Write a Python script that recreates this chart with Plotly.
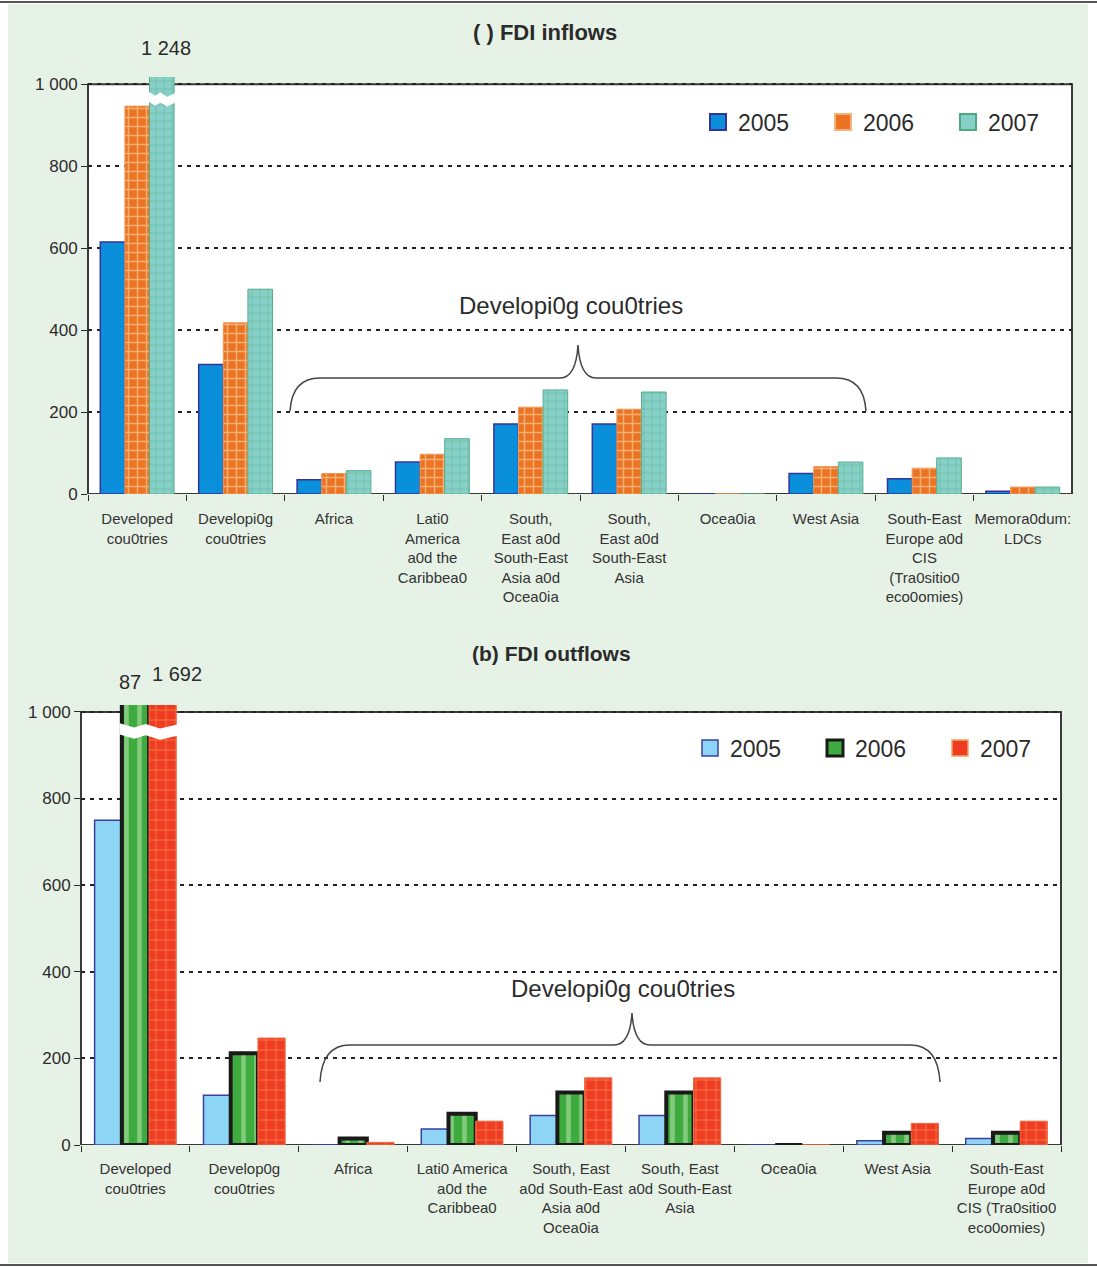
import plotly.graph_objects as go

W, H = 1097, 1268

years = ["2005", "2006", "2007"]

# (a) FDI inflows, $ billion
in_categories = [
    "Developed<br>cou0tries",
    "Developi0g<br>cou0tries",
    "Africa",
    "Lati0<br>America<br>a0d the<br>Caribbea0",
    "South,<br>East a0d<br>South-East<br>Asia a0d<br>Ocea0ia",
    "South,<br>East a0d<br>South-East<br>Asia",
    "Ocea0ia",
    "West Asia",
    "South-East<br>Europe a0d<br>CIS<br>(Tra0sitio0<br>eco0omies)",
    "Memora0dum:<br>LDCs",
]
in_2005 = [615, 316, 35, 78, 171, 171, 0, 50, 37, 7]
in_2006 = [947, 418, 50, 97, 212, 207, 0, 67, 63, 17]
in_2007 = [1248, 500, 57, 135, 254, 249, 0, 78, 88, 17]

# (b) FDI outflows, $ billion
out_categories = [
    "Developed<br>cou0tries",
    "Develop0g<br>cou0tries",
    "Africa",
    "Lati0 America<br>a0d the<br>Caribbea0",
    "South, East<br>a0d South-East<br>Asia a0d<br>Ocea0ia",
    "South, East<br>a0d South-East<br>Asia",
    "Ocea0ia",
    "West Asia",
    "South-East<br>Europe a0d<br>CIS (Tra0sitio0<br>eco0omies)",
]
out_2005 = [750, 115, 0, 37, 68, 68, 0, 10, 15]
out_2006 = [1087, 212, 15, 72, 121, 121, 0, 28, 28]
out_2007 = [1692, 247, 6, 55, 155, 155, 0, 50, 55]

y_ticks = [0, 200, 400, 600, 800, 1000]
y_ticktext = ["0", "200", "400", "600", "800", "1 000"]

BARGAP = 0.25
SANS = "Liberation Sans, Arial, sans-serif"
INK = "#2b2b2b"


def px(x):
    return x / W


def py(y):
    return 1 - y / H


def bar_span(cat_index, trace_index, n=3):
    """Left/right edges (in category units) of one bar within a group."""
    w = (1 - BARGAP) / n
    centre = cat_index + (trace_index - (n - 1) / 2) * w
    return centre - w / 2, centre + w / 2, centre


fig = go.Figure()

in_styles = [
    dict(color="#0A8FDA", line=dict(color="#34339A", width=1.5)),
    dict(color="#EA7423", line=dict(color="#F29A5E", width=1),
         pattern=dict(shape="+", fgcolor="#FFE9C4", size=9, solidity=0.3)),
    dict(color="#86D0C8", line=dict(color="#58AE8A", width=1),
         pattern=dict(shape="+", fgcolor="#4FA784", size=8, solidity=0.18)),
]
out_styles = [
    dict(color="#8ED5F5", line=dict(color="#3A40A2", width=1.5)),
    dict(color="#3EAB3F", line=dict(color="#1a1a1a", width=4),
         pattern=dict(shape="|", fgcolor="#C8EABA", size=13, solidity=0.35)),
    dict(color="#EF3D24", line=dict(color="#F36A42", width=1),
         pattern=dict(shape="+", fgcolor="#F7CE72", size=10, solidity=0.14)),
]
# larger swatches for the legends
in_keys = [
    dict(color="#0A8FDA", line=dict(color="#34339A", width=2)),
    dict(color="#EA7423", line=dict(color="#F6B07A", width=2)),
    dict(color="#86D0C8", line=dict(color="#4FA784", width=2)),
]
out_keys = [
    dict(color="#8ED5F5", line=dict(color="#3A40A2", width=1.5)),
    dict(color="#3EAB3F", line=dict(color="#1a1a1a", width=3)),
    dict(color="#EF3D24", line=dict(color="#F7A060", width=1.5)),
]

for year, vals, style in zip(years, [in_2005, in_2006, in_2007], in_styles):
    fig.add_trace(go.Bar(x=in_categories, y=vals, name=year, marker=style,
                         xaxis="x", yaxis="y", showlegend=False))
for year, vals, style in zip(years, [out_2005, out_2006, out_2007], out_styles):
    fig.add_trace(go.Bar(x=out_categories, y=vals, name=year, marker=style,
                         xaxis="x2", yaxis="y2", showlegend=False))
for year, key in zip(years, in_keys):
    fig.add_trace(go.Scatter(x=[None], y=[None], name=year, mode="markers",
                             marker=dict(symbol="square", size=18, **key),
                             xaxis="x", yaxis="y", legend="legend"))
for year, key in zip(years, out_keys):
    fig.add_trace(go.Scatter(x=[None], y=[None], name=year, mode="markers",
                             marker=dict(symbol="square", size=18, **key),
                             xaxis="x2", yaxis="y2", legend="legend2"))

axis_common = dict(showline=False, zeroline=False, ticks="outside", ticklen=6,
                   tickcolor=INK, tickwidth=1.2, automargin=False)
xfont = dict(family=SANS, size=15, color="#333")
yfont = dict(family=SANS, size=17, color=INK)
grid = dict(showgrid=True, gridcolor="#222", gridwidth=1.6, griddash="4px,5px")
fig.update_layout(
    width=W, height=H, autosize=False,
    margin=dict(l=0, r=0, t=0, b=0, autoexpand=False),
    paper_bgcolor="white",
    plot_bgcolor="rgba(0,0,0,0)",
    barmode="group", bargap=BARGAP, bargroupgap=0,
    showlegend=True,
    xaxis=dict(domain=[px(88), px(1072)], anchor="y", type="category",
               tickson="boundaries", showgrid=False, tickangle=0,
               ticklabelstandoff=14, tickfont=xfont, **axis_common),
    yaxis=dict(domain=[py(494), py(77)], anchor="x", range=[0, 1018],
               tickvals=y_ticks, ticktext=y_ticktext, tickfont=yfont,
               **grid, **axis_common),
    xaxis2=dict(domain=[px(81), px(1061)], anchor="y2", type="category",
                tickson="boundaries", showgrid=False, tickangle=0,
                ticklabelstandoff=13, tickfont=xfont, **axis_common),
    yaxis2=dict(domain=[py(1145), py(705)], anchor="x2", range=[0, 1016],
                tickvals=y_ticks, ticktext=y_ticktext, tickfont=yfont,
                **grid, **axis_common),
    legend=dict(orientation="h", x=px(698), y=py(122), xanchor="left", yanchor="middle",
                bgcolor="rgba(0,0,0,0)", font=dict(family=SANS, size=23, color=INK),
                entrywidth=80, entrywidthmode="pixels", itemclick=False),
    legend2=dict(orientation="h", x=px(690), y=py(748), xanchor="left", yanchor="middle",
                 bgcolor="rgba(0,0,0,0)", font=dict(family=SANS, size=23, color=INK),
                 entrywidth=80, entrywidthmode="pixels", itemclick=False),
)

shapes = []
# light green panel with dark top and bottom rules
shapes.append(dict(type="rect", xref="paper", yref="paper", x0=px(8), x1=px(1088),
                   y0=py(1263), y1=py(4), fillcolor="#E7F2E7", line=dict(width=0),
                   layer="below"))
for yy in (2, 1265):
    shapes.append(dict(type="line", xref="paper", yref="paper", x0=px(0), x1=px(1097),
                       y0=py(yy), y1=py(yy), line=dict(color="#555", width=2),
                       layer="below"))
# white framed plotting areas, capped at 1 000
for xr, yr in (("x domain", "y"), ("x2 domain", "y2")):
    shapes.append(dict(type="rect", xref=xr, yref=yr, x0=0, x1=1, y0=0, y1=1000,
                       fillcolor="white", line=dict(color="#3a3a3a", width=2),
                       layer="below"))


def zigzag(xref, yref, x0, x1, ylo, yhi):
    """White break band with a wavy edge cut across clipped bars."""
    w = x1 - x0
    top = [(x0, yhi), (x0 + w * 0.25, yhi - 10), (x0 + w * 0.45, yhi - 2),
           (x0 + w * 0.7, yhi - 12), (x1, yhi - 3)]
    bot = [(x1, ylo - 3), (x0 + w * 0.7, ylo - 12), (x0 + w * 0.45, ylo - 2),
           (x0 + w * 0.25, ylo - 10), (x0, ylo)]
    pts = top + bot
    path = "M " + " L ".join(f"{a:.4f},{b:.2f}" for a, b in pts) + " Z"
    return dict(type="path", xref=xref, yref=yref, path=path, fillcolor="white",
                line=dict(width=0), layer="above")


l2, r2, c2 = bar_span(0, 2)
shapes.append(zigzag("x", "y", l2 - 0.01, r2 + 0.01, 958, 982))
l1, r1, c1 = bar_span(0, 1)
shapes.append(zigzag("x2", "y2", l1 - 0.02, r2 + 0.01, 948, 974))


def brace(x0, x1, xm, ybar, ytip, yend):
    pts = (f"M {px(x0)},{py(yend)} Q {px(x0 + 2)},{py(ybar)} {px(x0 + 30)},{py(ybar)} "
           f"L {px(xm - 18)},{py(ybar)} Q {px(xm - 2)},{py(ybar)} {px(xm)},{py(ytip)} "
           f"Q {px(xm + 2)},{py(ybar)} {px(xm + 18)},{py(ybar)} "
           f"L {px(x1 - 30)},{py(ybar)} Q {px(x1 - 2)},{py(ybar)} {px(x1)},{py(yend)}")
    return dict(type="path", xref="paper", yref="paper", path=pts,
                line=dict(color="#444", width=1.5))


shapes.append(brace(290, 866, 578, 378, 345, 411))
shapes.append(brace(320, 940, 632, 1045, 1013, 1082))
fig.update_layout(shapes=shapes)


def fmt(v):
    return f"{v:,}".replace(",", " ")


def paper_text(text, x, y, size, family=SANS):
    return dict(text=text, xref="paper", yref="paper", x=px(x), y=py(y),
                xanchor="center", yanchor="middle", showarrow=False,
                font=dict(family=family, size=size, color=INK))


annotations = [
    paper_text("<b>( ) FDI inflows</b>", 545, 33, 22),
    paper_text("<b>(b) FDI outflows</b>", 551, 653, 21),
    paper_text("Developi0g cou0tries", 571, 305, 24),
    paper_text("Developi0g cou0tries", 623, 988, 24),
    # values of the clipped bars
    dict(text=fmt(in_2007[0]), xref="x", yref="y domain", x=c2 + 0.04, y=1,
         yanchor="bottom", yshift=16, showarrow=False,
         font=dict(family=SANS, size=20, color=INK)),
    dict(text="87", xref="x2", yref="y2 domain", x=c1 - 0.05, y=1,
         yanchor="bottom", yshift=10, showarrow=False,
         font=dict(family=SANS, size=20, color=INK)),
    dict(text=fmt(out_2007[0]), xref="x2", yref="y2 domain", x=c2 + 0.13, y=1,
         yanchor="bottom", yshift=18, showarrow=False,
         font=dict(family=SANS, size=20, color=INK)),
]
fig.update_layout(annotations=annotations)

fig.write_html("out.html")
